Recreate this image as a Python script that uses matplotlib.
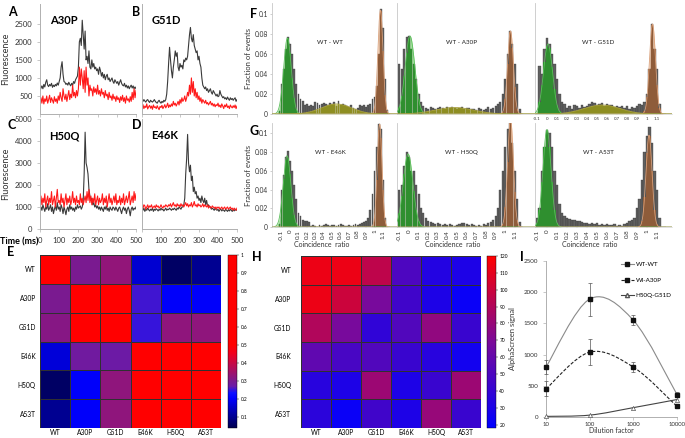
import numpy as np
import matplotlib
matplotlib.use("Agg")
import matplotlib.pyplot as plt
from matplotlib.path import Path
from matplotlib.patches import PathPatch
from matplotlib.colors import LinearSegmentedColormap
from matplotlib.lines import Line2D

plt.rcParams['font.family'] = ['Lato', 'DejaVu Sans']

W, H = 685, 438

# --- A-D: fluorescence traces (one value every 5 ms, 0..500 ms) ---
time_ms = list(range(0, 501, 5))

a30p_black = [650, 720, 780, 700, 820, 750, 880, 950, 800, 760, 820, 780, 850, 740, 800, 760, 820, 780, 860, 800,
              900, 1000, 1300, 1450, 1100, 900, 880, 820, 850, 800, 880, 820, 780, 850, 800, 900, 850, 950, 1000, 1050,
              1300, 2000, 2100, 1900, 2600, 2200, 1800, 2300, 1500, 1600, 1400, 1750, 1300, 1250, 1500, 1300, 1400, 1250, 1300, 1200,
              1250, 1100, 1300, 1200, 1050, 1150, 1000, 1100, 950, 1050, 1100, 950, 1000, 900, 950, 1000, 900, 850, 950, 900,
              850, 900, 800, 880, 950, 850, 800, 780, 850, 750, 800, 720, 780, 700, 760, 800, 720, 780, 700, 750, 700]
a30p_red = [350, 450, 300, 500, 280, 420, 350, 500, 300, 400, 520, 320, 450, 380, 300, 480, 350, 420, 300, 500,
            380, 600, 450, 350, 700, 500, 400, 550, 350, 500, 650, 400, 550, 450, 800, 500, 600, 450, 650, 500,
            700, 1300, 800, 1250, 1000, 700, 1200, 600, 1300, 800, 1000, 500, 800, 650, 700, 500, 750, 600, 700, 550,
            800, 550, 650, 500, 700, 550, 600, 450, 650, 500, 550, 400, 600, 450, 500, 380, 550, 420, 480, 350,
            500, 400, 450, 320, 480, 380, 520, 350, 450, 300, 500, 380, 420, 330, 480, 350, 600, 400, 700, 450, 650]
g51d_black = [380, 350, 400, 360, 330, 380, 400, 350, 320, 380, 350, 330, 360, 400, 350, 320, 300, 350, 380, 330,
              300, 350, 320, 380, 350, 400, 550, 900, 1400, 1850, 1500, 1200, 1000, 1300, 1500, 1750, 1600, 1700, 1300, 1200,
              1400, 1300, 1350, 1250, 1500, 1450, 1550, 1500, 1600, 1900, 2200, 2400, 2100, 2000, 2200, 1900, 1800, 1700, 1750, 1500,
              1600, 1400, 1300, 1000, 800, 750, 700, 750, 650, 700, 600, 650, 700, 600, 550, 650, 600, 550, 500, 550,
              480, 500, 650, 550, 500, 450, 480, 420, 450, 400, 470, 420, 380, 450, 400, 430, 380, 420, 450, 350, 400]
g51d_red = [200, 260, 150, 220, 180, 280, 140, 200, 240, 160, 220, 130, 250, 180, 200, 150, 230, 170, 120, 210,
            180, 240, 150, 200, 260, 170, 220, 300, 180, 250, 200, 280, 220, 350, 250, 300, 220, 280, 350, 250,
            400, 300, 450, 350, 400, 500, 350, 450, 600, 500, 800, 550, 1000, 600, 900, 500, 700, 450, 600, 400,
            500, 350, 450, 300, 400, 350, 300, 380, 280, 320, 250, 300, 350, 250, 300, 220, 280, 200, 260, 230,
            300, 200, 250, 180, 280, 220, 150, 250, 200, 280, 180, 220, 150, 250, 200, 170, 230, 180, 250, 150, 220]
h50q_black = [900, 1000, 850, 1100, 950, 800, 1000, 900, 1150, 850, 950, 1100, 800, 1000, 700, 900, 1050, 850, 1200, 900,
              1000, 800, 1100, 950, 700, 1000, 850, 650, 900, 1000, 800, 1100, 900, 1000, 850, 950, 800, 1000, 900, 1100,
              950, 1000, 1050, 900, 1000, 1300, 2500, 4400, 3000, 2800, 2500, 1800, 1500, 1300, 1400, 1100, 1200, 1000, 1100, 950,
              1050, 900, 1000, 850, 1000, 900, 800, 1000, 900, 1050, 850, 950, 800, 1000, 900, 850, 1000, 950, 850, 1000,
              900, 800, 950, 1000, 850, 700, 900, 1000, 850, 950, 700, 900, 1000, 850, 600, 900, 1000, 850, 950, 900, 1000]
h50q_red = [1200, 1500, 1100, 1400, 1200, 1600, 1000, 1300, 1500, 1100, 1400, 1200, 1700, 1100, 1300, 1500, 1000, 1400, 1800, 1200,
            1300, 1100, 1600, 1200, 1400, 1000, 1300, 1600, 1100, 1400, 1200, 1500, 1100, 1300, 1700, 1200, 1400, 1100, 1500, 1200,
            1300, 1100, 1600, 1200, 1400, 1100, 1300, 1500, 1200, 1700, 1300, 1800, 1200, 1500, 1100, 1400, 1200, 1600, 1100, 1300,
            1500, 1100, 1400, 1200, 1300, 1600, 1100, 1400, 1200, 1500, 1000, 1300, 1600, 1200, 1400, 1100, 1300, 1500, 1200, 1600,
            1100, 1300, 1200, 1500, 1100, 1400, 1200, 1600, 1100, 1300, 1500, 1200, 1400, 1700, 1100, 1300, 1500, 1200, 1700, 1300, 1600]
e46k_black = [900, 850, 950, 800, 900, 850, 950, 880, 820, 900, 850, 950, 800, 900, 850, 920, 880, 820, 900, 850,
              950, 870, 900, 820, 880, 950, 850, 900, 880, 950, 900, 850, 920, 880, 950, 900, 850, 950, 900, 1000,
              950, 900, 1000, 1000, 1100, 1400, 2500, 3200, 4300, 3000, 2600, 2900, 2200, 2400, 1700, 1900, 1600, 1700, 1400, 1500,
              1300, 1400, 1200, 1500, 1300, 1200, 1400, 1100, 1300, 1050, 1100, 1000, 1000, 900, 950, 900, 850, 950, 880, 850,
              900, 800, 870, 900, 820, 880, 850, 800, 900, 850, 800, 880, 820, 900, 850, 800, 880, 820, 900, 850, 880]
e46k_red = [1000, 950, 1100, 1050, 900, 1000, 1100, 950, 1050, 1000, 1100, 950, 1000, 1050, 950, 1100, 1000, 1050, 950, 1000,
            1100, 1000, 950, 1050, 1000, 1100, 1050, 1000, 1100, 1050, 1150, 1000, 1100, 1200, 1050, 1100, 1000, 1150, 1050, 1100,
            1000, 1150, 1050, 1100, 1000, 1100, 1200, 1050, 1150, 1000, 1100, 1050, 1200, 1000, 1100, 1250, 1050, 1100, 1000, 1150,
            1050, 1100, 1000, 1050, 1150, 1000, 1100, 1050, 1000, 1100, 950, 1050, 1000, 950, 1050, 1000, 950, 1000, 900, 1000,
            950, 1000, 900, 950, 1000, 900, 950, 1000, 900, 950, 1000, 900, 950, 1000, 900, 950, 850, 950, 900, 850, 950]

# --- E / H heatmaps ---
variants = ['WT', 'A30P', 'G51D', 'E46K', 'H50Q', 'A53T']
e_matrix = [[1.00, 0.30, 0.33, 0.16, 0.06, 0.10],
            [0.30, 1.00, 1.00, 0.255, 0.20, 0.20],
            [0.315, 1.00, 1.00, 0.25, 0.325, 0.325],
            [0.17, 0.28, 0.275, 1.00, 1.00, 1.00],
            [0.06, 0.20, 0.325, 1.00, 1.00, 1.00],
            [0.10, 0.20, 0.325, 1.00, 1.00, 1.00]]
h_matrix = [[113, 113, 95, 50, 33, 30],
            [113, 100, 68, 45, 30, 22],
            [90, 68, 38, 52, 78, 42],
            [58, 48, 52, 42, 35, 26],
            [35, 30, 82, 30, 42, 82],
            [36, 22, 45, 30, 80, 42]]

# --- F / G coincidence histograms, bins of 0.025 centred from -0.125 to 1.175 ---
hist_centres = [round(-0.125 + 0.025 * i, 3) for i in range(53)]
hist_titles = ['WT - WT', 'WT - A30P', 'WT - G51D', 'WT - E46K', 'WT - H50Q', 'WT - A53T']
hist_vals = [
    [0.003, 0.030, 0.045, 0.065, 0.077, 0.070, 0.060, 0.045, 0.030, 0.020, 0.015, 0.013, 0.009, 0.010, 0.008, 0.009, 0.008, 0.012,
     0.011, 0.009, 0.010, 0.011, 0.010, 0.009, 0.011, 0.010, 0.012, 0.008, 0.013, 0.009, 0.010, 0.009, 0.008, 0.007, 0.009, 0.006,
     0.005, 0.006, 0.009, 0.008, 0.009, 0.007, 0.009, 0.010, 0.015, 0.017, 0.028, 0.060, 0.105, 0.086, 0.035, 0.004, 0.0],
    [0.0, 0.050, 0.045, 0.065, 0.077, 0.078, 0.065, 0.050, 0.035, 0.020, 0.012, 0.008, 0.006, 0.005, 0.007, 0.006, 0.005, 0.006,
     0.007, 0.006, 0.005, 0.007, 0.006, 0.007, 0.006, 0.005, 0.006, 0.007, 0.005, 0.006, 0.006, 0.005, 0.005, 0.004, 0.006, 0.005,
     0.004, 0.005, 0.007, 0.005, 0.006, 0.008, 0.010, 0.012, 0.020, 0.035, 0.060, 0.083, 0.070, 0.050, 0.030, 0.005, 0.0],
    [0.0, 0.0, 0.048, 0.040, 0.065, 0.076, 0.070, 0.060, 0.050, 0.035, 0.020, 0.012, 0.010, 0.006, 0.008, 0.005, 0.009, 0.008,
     0.006, 0.009, 0.007, 0.008, 0.010, 0.012, 0.011, 0.009, 0.010, 0.011, 0.008, 0.010, 0.009, 0.009, 0.007, 0.008, 0.007, 0.008,
     0.006, 0.008, 0.005, 0.007, 0.006, 0.008, 0.010, 0.009, 0.012, 0.020, 0.045, 0.090, 0.065, 0.045, 0.010, 0.0, 0.0],
    [0.003, 0.040, 0.055, 0.075, 0.081, 0.070, 0.060, 0.045, 0.030, 0.015, 0.012, 0.008, 0.006, 0.006, 0.005, 0.001, 0.002, 0.001,
     0.0, 0.002, 0.001, 0.002, 0.003, 0.002, 0.001, 0.002, 0.002, 0.001, 0.002, 0.003, 0.002, 0.001, 0.001, 0.002, 0.001, 0.002,
     0.003, 0.002, 0.003, 0.004, 0.005, 0.006, 0.010, 0.018, 0.035, 0.060, 0.085, 0.110, 0.105, 0.050, 0.010, 0.0, 0.0],
    [0.0, 0.040, 0.045, 0.065, 0.080, 0.075, 0.060, 0.060, 0.045, 0.035, 0.020, 0.015, 0.010, 0.006, 0.005, 0.004, 0.003, 0.004,
     0.003, 0.002, 0.003, 0.002, 0.003, 0.002, 0.001, 0.002, 0.003, 0.004, 0.004, 0.003, 0.002, 0.003, 0.002, 0.001, 0.002, 0.001,
     0.003, 0.002, 0.004, 0.005, 0.008, 0.012, 0.020, 0.040, 0.060, 0.085, 0.105, 0.115, 0.090, 0.060, 0.030, 0.005, 0.0],
    [0.0, 0.010, 0.020, 0.060, 0.085, 0.104, 0.100, 0.085, 0.060, 0.045, 0.025, 0.015, 0.012, 0.010, 0.009, 0.008, 0.007, 0.006,
     0.006, 0.005, 0.004, 0.004, 0.003, 0.004, 0.003, 0.004, 0.002, 0.003, 0.002, 0.003, 0.002, 0.002, 0.003, 0.001, 0.002, 0.001,
     0.003, 0.004, 0.006, 0.007, 0.010, 0.020, 0.030, 0.050, 0.080, 0.097, 0.107, 0.090, 0.060, 0.040, 0.010, 0.0, 0.0],
]
# gaussian fits: (amplitude, centre, sigma)
green_fits = [(0.076, -0.03, 0.045), (0.078, 0.01, 0.05), (0.070, 0.01, 0.045),
              (0.076, -0.035, 0.045), (0.078, -0.01, 0.05), (0.104, 0.0, 0.04)]
orange_fits = [(0.104, 1.07, 0.03), (0.083, 1.055, 0.03), (0.090, 1.055, 0.03),
               (0.110, 1.06, 0.028), (0.115, 1.055, 0.03), (0.098, 1.02, 0.03)]
olive_fits = [(0.010, 0.55, 0.18), (0.0065, 0.47, 0.2), (0.009, 0.55, 0.18), None, None, None]

# --- I: AlphaScreen ---
dilution = [10, 100, 1000, 10000]
wt_wt = [800, 1890, 1550, 360]
wt_wt_err = [110, 265, 80, 35]
wt_a30p = [450, 1040, 800, 170]
wt_a30p_err = [120, 210, 80, 20]
h50q_g51d = [10, 30, 150, 280]


def px_axes(l, t, r, b):
    return fig.add_axes([l / W, 1 - b / H, (r - l) / W, (b - t) / H])


def ftext(x, y, s, **kw):
    fig.text(x / W, 1 - y / H, s, **kw)


def light_axes(ax, size=5.5):
    for side in ['top', 'right']:
        ax.spines[side].set_visible(False)
    for side in ['left', 'bottom']:
        ax.spines[side].set_color('#b0b0b0')
        ax.spines[side].set_linewidth(0.7)
    ax.tick_params(colors='#b0b0b0', labelcolor='#333333', length=2, width=0.5, labelsize=size)


fig = plt.figure(figsize=(W / 100, H / 100), dpi=100)

# ---------- A-D ----------
trace_panels = [
    ('A', 'A30P', a30p_black, a30p_red, (40, 4, 136, 114), 3050, [500, 1000, 1500, 2000, 2500], True, False),
    ('B', 'G51D', g51d_black, g51d_red, (142, 4, 237, 114), 3050, [], False, False),
    ('C', 'H50Q', h50q_black, h50q_red, (40, 119, 136, 229), 5000, [0, 1000, 2000, 3000, 4000, 5000], True, True),
    ('D', 'E46K', e46k_black, e46k_red, (142, 119, 237, 229), 5000, [], False, True),
]
for letter, name, black, red, rect, ymax, yt, show_y, show_x in trace_panels:
    ax = px_axes(*rect)
    ax.plot(time_ms, black, color='#3a3a3a', lw=0.8)
    ax.plot(time_ms, red, color='#ff1a1a', lw=0.8)
    ax.set_xlim(0, 500)
    ax.set_ylim(0, ymax)
    light_axes(ax)
    ax.set_yticks(yt)
    ax.set_xticks(range(0, 501, 100))
    if not show_x:
        ax.set_xticklabels([])
    elif letter == 'D':
        ax.set_xticklabels([''] + [str(v) for v in range(100, 501, 100)])
    if show_y:
        ax.set_ylabel('Fluorescence', fontsize=6.5, color='#333333', labelpad=3)
    ax.text(0.1, 0.9, name, transform=ax.transAxes, fontsize=8, fontweight='bold', va='top')
    ftext(rect[0] - 32 if show_y else rect[0] - 10, 12 if rect[1] < 50 else 125, letter,
          fontsize=9, fontweight='bold', va='center')
ftext(0, 242, 'Time (ms)', fontsize=6.5, fontweight='bold', va='center')

# ---------- E ----------
e_cmap = LinearSegmentedColormap.from_list('e_map', [
    (0.0, '#000050'), (0.17, '#0000ff'), (0.205, '#1010ff'), (0.24, '#6a1aa8'),
    (0.27, '#7a1a90'), (0.43, '#f0001e'), (0.48, '#ff0000'), (1.0, '#ff0000')])
ax = px_axes(40, 255, 221, 428)
mesh = ax.pcolormesh(np.array(e_matrix), cmap=e_cmap, vmin=0.04, vmax=1.0,
                     edgecolors='#303030', linewidth=0.4)
ax.set_xlim(0, 6)
ax.set_ylim(6, 0)
ax.set_xticks(np.arange(6) + 0.5)
ax.set_xticklabels(variants)
ax.set_yticks(np.arange(6) + 0.5)
ax.set_yticklabels(variants)
ax.tick_params(length=0, labelsize=4.8, pad=3)
ax.tick_params(axis='x', pad=1)
for s in ax.spines.values():
    s.set_visible(False)
cax = px_axes(228, 255, 237, 428)
cb = fig.colorbar(mesh, cax=cax, ticks=[0.1, 0.2, 0.3, 0.4, 0.5, 0.6, 0.7, 0.8, 0.9, 1])
cb.ax.set_yticklabels(['0.1', '0.2', '0.3', '0.4', '0.5', '0.6', '0.7', '0.8', '0.9', '1'])
cb.ax.tick_params(labelsize=3.5, length=1.5, width=0.3, pad=1)
cb.outline.set_linewidth(0.3)
ftext(7, 252, 'E', fontsize=9, fontweight='bold', va='center')

# ---------- H ----------
h_cmap = LinearSegmentedColormap.from_list('h_map', ['#0000ff', '#7a0a9a', '#ff0000'])
ax = px_axes(301, 256, 481, 428)
mesh = ax.pcolormesh(np.array(h_matrix), cmap=h_cmap, vmin=18, vmax=120,
                     edgecolors='#303030', linewidth=0.4)
ax.set_xlim(0, 6)
ax.set_ylim(6, 0)
ax.set_xticks(np.arange(6) + 0.5)
ax.set_xticklabels(variants)
ax.set_yticks(np.arange(6) + 0.5)
ax.set_yticklabels(variants)
ax.tick_params(length=0, labelsize=4.8, pad=7)
ax.tick_params(axis='x', pad=1)
for s in ax.spines.values():
    s.set_visible(False)
cax = px_axes(487, 256, 496, 428)
cb = fig.colorbar(mesh, cax=cax, ticks=list(range(20, 121, 10)))
cb.ax.tick_params(labelsize=3.5, length=1.5, width=0.3, pad=1)
cb.outline.set_linewidth(0.3)
ftext(252, 257, 'H', fontsize=9, fontweight='bold', va='center')

# ---------- F / G ----------
sub_px = [(272, 397), (397, 535), (535, 672)]
sub_xlim = [(-0.213, 1.266), (-0.125, 1.31), (-0.12, 1.25)]
row_px = [(3, 114), (123, 227)]
tick_vals = [-0.1, 0, 0.1, 0.2, 0.3, 0.4, 0.5, 0.6, 0.7, 0.8, 0.9, 1, 1.1]
tick_txt = ['-0.1', '0', '0.1', '0.2', '0.3', '0.4', '0.5', '0.6', '0.7', '0.8', '0.9', '1', '1.1']
cents = np.array(hist_centres)
for k in range(6):
    row, col = divmod(k, 3)
    l, r = sub_px[col]
    t, b = row_px[row]
    ax = px_axes(l, t, r, b)
    x0, x1 = sub_xlim[col]
    vals = np.array(hist_vals[k])
    xs = np.linspace(x0, x1, 500)
    fits = [(green_fits[k], '#a2e29c', '#2f8f2f', '#5cbf5c'),
            (orange_fits[k], '#f7cba8', '#8e5c3a', '#d9a07a'),
            (olive_fits[k], '#dede78', '#8e8e22', '#a8a040')]
    fits = [f for f in fits if f[0] is not None]
    g_at_bins = []
    for (amp, mu, sd), light, dark, line in fits:
        ax.fill_between(xs, 0, amp * np.exp(-(xs - mu) ** 2 / (2 * sd ** 2)), color=light, lw=0, zorder=1)
        g_at_bins.append(amp * np.exp(-(cents - mu) ** 2 / (2 * sd ** 2)))
    g_at_bins = np.array(g_at_bins)
    dom = g_at_bins.argmax(axis=0)
    cover = np.minimum(vals, g_at_bins.max(axis=0))
    ax.bar(cents, vals, width=0.021, color='#606060', edgecolor='#3a3a3a', linewidth=0.25, zorder=2)
    for j, (fit, light, dark, line) in enumerate(fits):
        m = dom == j
        ax.bar(cents[m], cover[m], width=0.021, color=dark, edgecolor='none', zorder=3)
    for (amp, mu, sd), light, dark, line in fits:
        ax.plot(xs, amp * np.exp(-(xs - mu) ** 2 / (2 * sd ** 2)), color=line, lw=0.6, zorder=4)
    ax.set_xlim(x0, x1)
    ax.set_ylim(0, 0.111)
    ax.spines['top'].set_visible(False)
    ax.spines['right'].set_visible(False)
    ax.spines['left'].set_color('#c8c8c8')
    ax.spines['left'].set_linewidth(0.6)
    ax.spines['bottom'].set_color('#c8c8c8')
    ax.spines['bottom'].set_linewidth(0.4)
    ax.text((x0 + x1) / 2 - 0.05, 0.071 if row == 0 else 0.079, hist_titles[k],
            fontsize=4.5, ha='center', va='center', color='#222222', zorder=5)
    if col == 0:
        ax.set_yticks([0, 0.02, 0.04, 0.06, 0.08, 0.1])
        ax.set_yticklabels(['0', '0.02', '0.04', '0.06', '0.08', '0.1'])
        ax.tick_params(axis='y', labelsize=4.8, length=1.5, width=0.4, colors='#aaaaaa',
                       labelcolor='#333333', pad=1.5)
        ax.set_ylabel('Fraction of events', fontsize=5.5, color='#333333', labelpad=2)
    else:
        ax.set_yticks([])
    ax.set_xticks(tick_vals)
    if row == 1:
        ax.set_xticklabels(tick_txt, rotation=90, fontsize=4.5)
        ax.tick_params(axis='x', length=1, width=0.3, colors='#aaaaaa', labelcolor='#333333', pad=1)
        ax.set_xlabel('Coincidence  ratio', fontsize=5, color='#333333', labelpad=0, x=0.4)
    elif col == 2:
        ax.set_xticklabels(tick_txt, fontsize=3.2)
        ax.tick_params(axis='x', length=1, width=0.3, colors='#aaaaaa', labelcolor='#333333', pad=1)
    else:
        ax.set_xticklabels([])
        ax.tick_params(axis='x', length=0)
ftext(250, 14, 'F', fontsize=9, fontweight='bold', va='center')
ftext(250, 131, 'G', fontsize=9, fontweight='bold', va='center')

# ---------- I ----------
ax = px_axes(546, 261, 677, 417)
ax.set_xscale('log')
ax.set_xlim(10, 10000)
ax.set_ylim(0, 2500)


def smooth_path(xv, yv):
    # Excel-style smoothed line as cubic bezier segments in log-x space
    lx = np.log10(xv)
    pts = np.column_stack([lx, yv]).astype(float)
    ext = np.vstack([pts[0], pts, pts[-1]])
    verts, codes = [pts[0]], [Path.MOVETO]
    for i in range(len(pts) - 1):
        p0, p1, p2, p3 = ext[i], ext[i + 1], ext[i + 2], ext[i + 3]
        verts += [p1 + (p2 - p0) / 6, p2 - (p3 - p1) / 6, p2]
        codes += [Path.CURVE4] * 3
    verts = np.array(verts)
    verts[:, 0] = 10 ** verts[:, 0]
    return Path(verts, codes)


ax.add_patch(PathPatch(smooth_path(dilution, wt_wt), fill=False, color='#8a8a8a', lw=0.8))
ax.add_patch(PathPatch(smooth_path(dilution, wt_a30p), fill=False, color='#222222', lw=0.8, ls=(0, (3, 1.5))))
ax.add_patch(PathPatch(smooth_path(dilution, h50q_g51d), fill=False, color='#444444', lw=0.8))
ax.errorbar(dilution, wt_wt, yerr=wt_wt_err, fmt='s', color='#111111', ms=3.5,
            ecolor='#555555', elinewidth=0.5, capsize=1.5, capthick=0.5, clip_on=False, zorder=3)
ax.errorbar(dilution, wt_a30p, yerr=wt_a30p_err, fmt='s', color='#111111', ms=3,
            ecolor='#555555', elinewidth=0.5, capsize=1.5, capthick=0.5, clip_on=False, zorder=3)
ax.plot(dilution, h50q_g51d, '^', mfc='white', mec='#555555', ms=3, mew=0.5, clip_on=False, zorder=3)
light_axes(ax, size=4.5)
ax.set_yticks([0, 500, 1000, 1500, 2000, 2500])
ax.set_xticks(dilution)
ax.set_xticklabels(['10', '100', '1000', '10000'])
ax.minorticks_off()
ax.tick_params(axis='x', pad=1.5, labelsize=4.3)
ax.set_xlabel('Dilution factor', fontsize=5, color='#333333', labelpad=0)
ax.set_ylabel('AlphaScreen signal', fontsize=5.5, color='#333333', labelpad=6)
handles = [Line2D([], [], color='#8a8a8a', lw=0.8, marker='s', mfc='#111111', mec='#111111', ms=3.5),
           Line2D([], [], color='#222222', lw=0.8, ls=(0, (3, 1.5)), marker='s', mfc='#111111', mec='#111111', ms=2.5),
           Line2D([], [], color='#444444', lw=0.8, marker='^', mfc='white', mec='#555555', ms=3)]
ax.legend(handles, ['WT-WT', 'WI-A30P', 'H50Q-G51D'], loc='upper right', bbox_to_anchor=(1.0, 1.03),
          frameon=False, fontsize=4.5, handlelength=2, labelspacing=1.6, handletextpad=0.3)
ftext(520, 257, 'I', fontsize=9, fontweight='bold', va='center')

fig.savefig('out.png', dpi=100)
